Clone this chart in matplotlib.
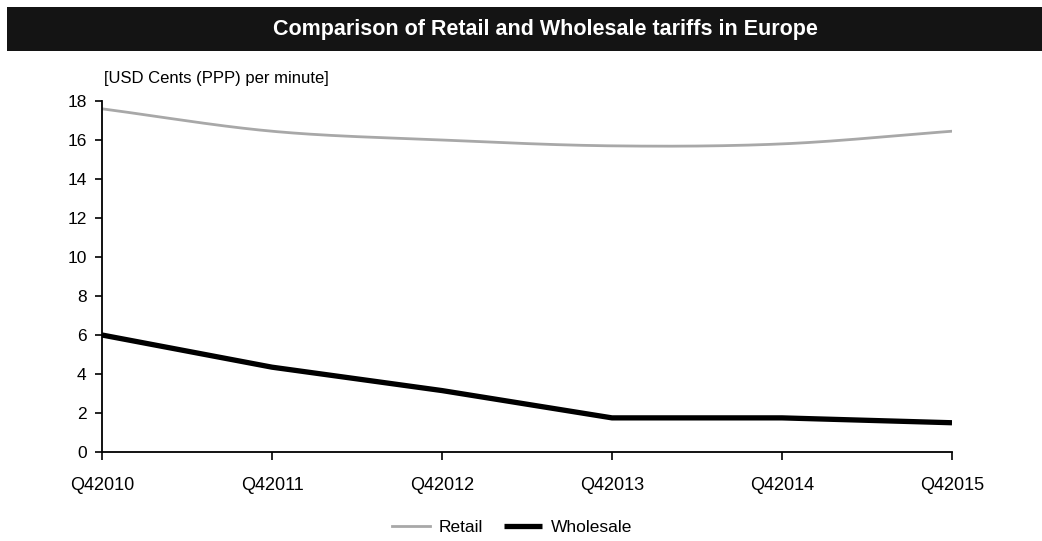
import numpy as np
import matplotlib
matplotlib.use("Agg")
from matplotlib import pyplot as plt
from matplotlib.ticker import MultipleLocator

plt.rcParams['font.family'] = ['Liberation Sans', 'DejaVu Sans']

# tariff data (USD cents PPP per minute)
quarters = ["Q42010", "Q42011", "Q42012", "Q42013", "Q42014", "Q42015"]
retail = [17.6, 16.45, 16.0, 15.7, 15.8, 16.45]
wholesale = [6.0, 4.35, 3.15, 1.75, 1.75, 1.5]


def smooth(y, n=40):
    # Catmull-Rom curve through every point (like a spreadsheet "smoothed line")
    y = np.asarray(y, float)
    p = np.concatenate([[2*y[0]-y[1]], y, [2*y[-1]-y[-2]]])
    xs, ys = [], []
    for i in range(len(y)-1):
        t = np.linspace(0, 1, n, endpoint=(i == len(y)-2))
        p0, p1, p2, p3 = p[i], p[i+1], p[i+2], p[i+3]
        ys.append(0.5*((2*p1) + (-p0+p2)*t + (2*p0-5*p1+4*p2-p3)*t**2
                       + (-p0+3*p1-3*p2+p3)*t**3))
        xs.append(i + t)
    return np.concatenate(xs), np.concatenate(ys)


fig = plt.figure(figsize=(10.42, 5.41), dpi=100)

# dark title band across the top
band = fig.add_axes([7/1042, 1-51/541, 1-7/1042, 44/541])
band.set_facecolor('#141414')
band.set_xticks([]); band.set_yticks([])
for s in band.spines.values():
    s.set_visible(False)
band.text(0.52, 0.5, "Comparison of Retail and Wholesale tariffs in Europe",
          color='white', fontsize=15.5, fontweight='bold',
          ha='center', va='center', transform=band.transAxes)

ax = fig.add_axes([102/1042, 1-452/541, 850/1042, 351/541])
x = np.arange(len(quarters))

sx, sy = smooth(retail)
ax.plot(sx, sy, color='#a8a8a8', lw=2, label='Retail')
ax.plot(x, wholesale, color='black', lw=3.8, label='Wholesale', solid_capstyle='butt')

ax.set_xlim(0, len(quarters)-1)
ax.set_ylim(0, 18)
ax.yaxis.set_major_locator(MultipleLocator(2))
ax.set_xticks(x)
ax.set_xticklabels(quarters, fontsize=13)
ax.tick_params(axis='y', labelsize=12.5, length=5, width=1.2, direction='out', pad=6)
ax.tick_params(axis='x', length=6, width=1.2, direction='out', pad=12)
for side in ['top', 'right']:
    ax.spines[side].set_visible(False)
for side in ['left', 'bottom']:
    ax.spines[side].set_linewidth(1.3)

fig.text(104/1042, 1-78/541, "[USD Cents (PPP) per minute]", fontsize=12,
         ha='left', va='center')

fig.legend(loc='center', bbox_to_anchor=(512/1042, 1-527/541), ncol=2,
           frameon=False, fontsize=12.5, handlelength=2.2, handletextpad=0.5,
           columnspacing=1.2)

fig.savefig("out.png", dpi=100)
